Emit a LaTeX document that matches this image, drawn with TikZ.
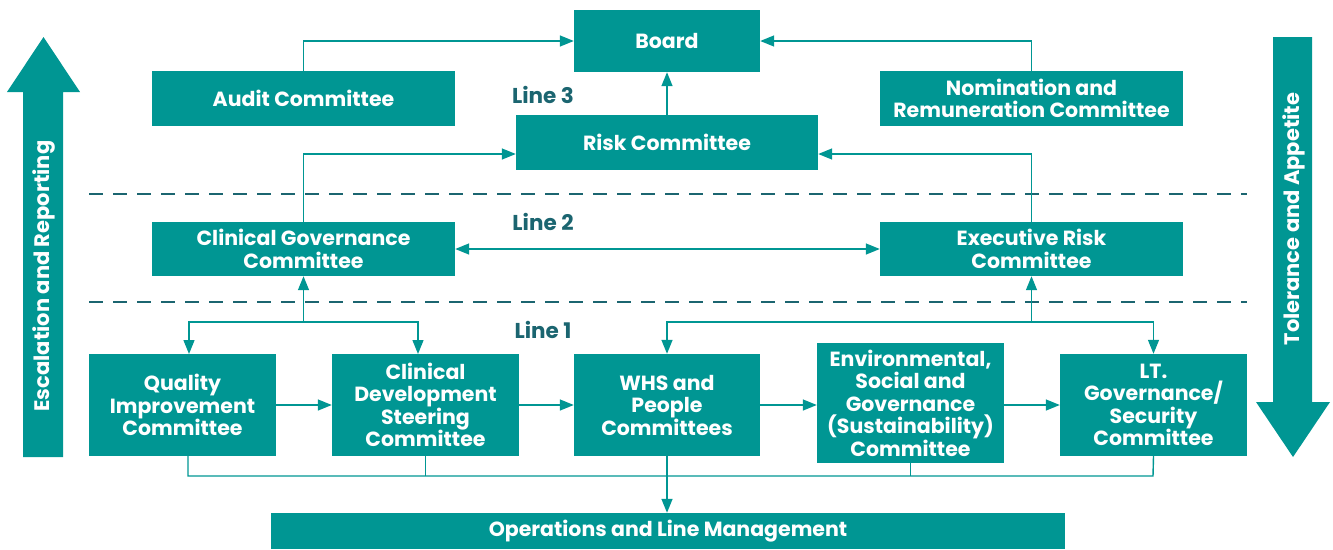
\documentclass[tikz,border=0pt]{standalone}
\usepackage{fontspec}
\setmainfont{Poppins}
\usetikzlibrary{arrows.meta}
\definecolor{teal1}{HTML}{009693}
\definecolor{darkteal}{HTML}{1B6570}
\begin{document}
\begin{tikzpicture}[x=1pt,y=-1pt,
  box/.style={fill=teal1, text=white, font=\bfseries\fontsize{20.5}{22.5}\selectfont, align=center, inner sep=0pt},
  conn/.style={draw=teal1, line width=1.4pt, -{Triangle[length=14pt,width=11pt]}},
  plainline/.style={draw=teal1, line width=1.4pt},
  dashline/.style={draw=darkteal, line width=2.9pt, dash pattern=on 14pt off 10pt},
  linelabel/.style={text=darkteal, font=\bfseries\fontsize{21.5}{24}\selectfont, inner sep=0pt},
  sidetext/.style={text=white, font=\bfseries\fontsize{21}{24}\selectfont, rotate=90, inner sep=0pt}]
\useasboundingbox (0,0) rectangle (1333,549);
% side arrows
\fill[teal1] (23,457) -- (23,92) -- (7,92) -- (43.5,37) -- (80,92) -- (63,92) -- (63,457) -- cycle;
\node[sidetext] (esc) at (44,276) {Escalation and Reporting};
\fill[teal1] (1273,37) -- (1312,37) -- (1312,402) -- (1330,402) -- (1293,457) -- (1256,402) -- (1273,402) -- cycle;
\node[sidetext] (tol) at (1294,219) {Tolerance and Appetite};
% dashed lines
\coordinate (d1a) at (89,194); \coordinate (d1b) at (1247,194);
\coordinate (d2a) at (89,302); \coordinate (d2b) at (1247,302);
\draw[dashline] (d1a) -- (d1b);
\draw[dashline] (d2a) -- (d2b);
% line labels
\node[linelabel] (l3) at (543,95) {Line 3};
\node[linelabel] (l2) at (543,222) {Line 2};
\node[linelabel] (l1) at (543,330) {Line 1};
% boxes
\node[box, minimum width=186pt, minimum height=62pt] (board) at (667,41) {Board};
\node[box, minimum width=303pt, minimum height=55pt] (audit) at (303.5,98.5) {\raisebox{-1pt}{Audit Committee}};
\node[box, minimum width=303pt, minimum height=55pt] (nom) at (1031.5,98.5) {Nomination and\\Remuneration Committee};
\node[box, minimum width=302pt, minimum height=55pt] (risk) at (667,142.5) {Risk Committee};
\node[box, minimum width=303pt, minimum height=54pt] (cgc) at (303.5,249) {Clinical Governance\\Committee};
\node[box, minimum width=303pt, minimum height=54pt] (erc) at (1031.5,249) {Executive Risk\\Committee};
\node[box, minimum width=187pt, minimum height=102pt] (qi) at (182.5,405) {Quality\\Improvement\\Committee};
\node[box, minimum width=187pt, minimum height=102pt] (cds) at (425.5,405) {Clinical\\Development\\Steering\\Committee};
\node[box, minimum width=186pt, minimum height=102pt] (whs) at (667,405) {WHS and\\People\\Committees};
\node[box, minimum width=187pt, minimum height=120pt] (env) at (910.5,403) {Environmental,\\Social and\\Governance\\(Sustainability)\\Committee};
\node[box, minimum width=187pt, minimum height=102pt] (lt) at (1153.5,405) {LT.\\Governance/\\Security\\Committee};
\node[box, minimum width=794pt, minimum height=36pt] (ops) at (668,531) {\raisebox{-3pt}{Operations and Line Management}};
% top connectors
\coordinate (ry) at (0,154);
\draw[conn] (audit.north) |- (board.west);
\draw[conn] (nom.north) |- (board.east);
\draw[conn] (risk.north) -- (board.south);
\draw[conn] (cgc.north) |- (risk.west |- ry);
\draw[conn] (erc.north) |- (risk.east |- ry);
\draw[conn, {Triangle[length=14pt,width=11pt]}-{Triangle[length=14pt,width=11pt]}] (cgc.east) -- (erc.west);
% line 1 to line 2
\coordinate (jl) at (303.5,322);
\coordinate (jr) at (1031.5,322);
\coordinate (qin) at (189,354);
\coordinate (cdsn) at (418,354);
\draw[conn] (jl) -- (cgc.south);
\draw[conn] (jr) -- (erc.south);
\draw[conn] (jl) -| (qin);
\draw[conn] (jl) -| (cdsn);
\draw[conn] (jr) -| (whs.north);
\draw[conn] (jr) -| (lt.north);
% horizontal chain
\draw[conn] (qi.east) -- (cds.west);
\draw[conn] (cds.east) -- (whs.west);
\draw[conn] (whs.east) -- (env.west |- whs.east);
\draw[conn] (env.east |- lt.west) -- (lt.west);
% bottom
\coordinate (qis) at (188,456);
\coordinate (bl) at (188,476);
\coordinate (br) at (1153,476);
\draw[plainline] (qis) -- (bl) -- (br) -- (lt.south |- qis);
\draw[plainline] (cds.south) -- (cds.south |- bl);
\draw[plainline] (env.south) -- (env.south |- bl);
\draw[conn] (whs.south) -- (ops.north -| whs.south);
\end{tikzpicture}
\end{document}
